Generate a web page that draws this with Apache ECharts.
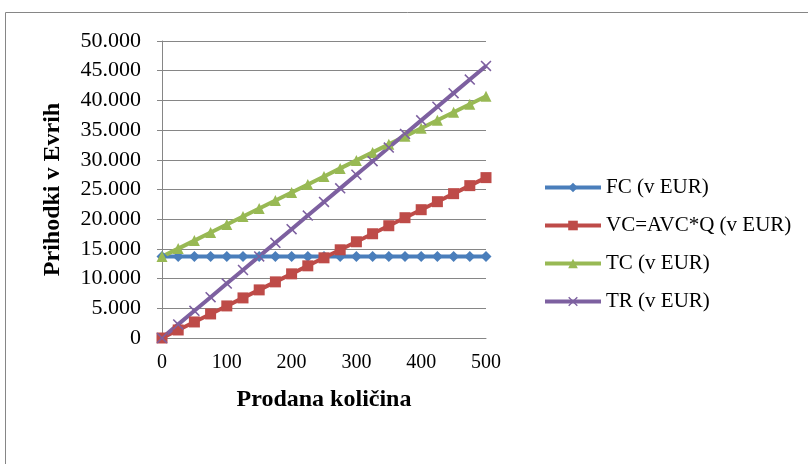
<!DOCTYPE html>
<html>
<head>
<meta charset="utf-8">
<script src="https://cdn.jsdelivr.net/npm/echarts@6/dist/echarts.min.js"></script>
<style>
  html, body { margin: 0; padding: 0; background: #fff; }
  #chart { width: 808px; height: 464px; }
</style>
</head>
<body>
<div id="chart"></div>
<script>
// količina (Q)
var kolicina = [0, 25, 50, 75, 100, 125, 150, 175, 200, 225, 250, 275, 300, 325, 350, 375, 400, 425, 450, 475, 500];
// stroški in prihodki (EUR), odčitano s slike
var fc = [13700, 13700, 13700, 13700, 13700, 13700, 13700, 13700, 13700, 13700, 13700, 13700, 13700, 13700, 13700, 13700, 13700, 13700, 13700, 13700, 13700];
var vc = [0, 1350, 2700, 4050, 5400, 6750, 8100, 9450, 10800, 12150, 13500, 14850, 16200, 17550, 18900, 20250, 21600, 22950, 24300, 25650, 27000];
var tc = [13700, 15050, 16400, 17750, 19100, 20450, 21800, 23150, 24500, 25850, 27200, 28550, 29900, 31250, 32600, 33950, 35300, 36650, 38000, 39350, 40700];
var tr = [0, 2290, 4580, 6870, 9160, 11450, 13740, 16030, 18320, 20610, 22900, 25190, 27480, 29770, 32060, 34350, 36640, 38930, 41220, 43510, 45800];
var imena = ['FC (v EUR)', 'VC=AVC*Q (v EUR)', 'TC (v EUR)', 'TR (v EUR)'];

function pari(ys) {
  return kolicina.map(function (q, i) { return [q, ys[i]]; });
}

var font = '"Liberation Serif", "Times New Roman", serif';
var xSym = 'path://M0,1L1,0L5,4L9,0L10,1L6,5L10,9L9,10L5,6L1,10L0,9L4,5Z';

var myChart = echarts.init(document.getElementById('chart'));
var option = {
  backgroundColor: '#fff',
  animation: false,
  graphic: [{
    type: 'rect',
    shape: { x: 5.5, y: 12.5, width: 900, height: 600 },
    style: { fill: 'none', stroke: '#868686', lineWidth: 1 }
  }],
  grid: { left: 162, right: 322, top: 41, bottom: 126 },
  legend: {
    orient: 'vertical',
    left: 538,
    top: 172,
    itemWidth: 56,
    itemHeight: 12,
    itemGap: 17,
    lineStyle: { width: 4 },
    textStyle: { fontFamily: font, fontSize: 21, color: '#000' },
    data: imena
  },
  xAxis: {
    type: 'value',
    min: 0, max: 500, interval: 100,
    name: 'Prodana količina',
    nameLocation: 'middle',
    nameGap: 50,
    nameTextStyle: { fontFamily: font, fontSize: 24, fontWeight: 'bold', color: '#000' },
    axisLine: { show: true, lineStyle: { color: '#868686' } },
    axisTick: { show: false },
    splitLine: { show: false },
    axisLabel: { fontFamily: font, fontSize: 20, color: '#000', margin: 15 }
  },
  yAxis: {
    type: 'value',
    min: 0, max: 50000, interval: 5000,
    name: 'Prihodki v Evrih',
    nameLocation: 'middle',
    nameGap: 97,
    nameTextStyle: { fontFamily: font, fontSize: 24, fontWeight: 'bold', color: '#000' },
    axisLine: { show: true, lineStyle: { color: '#868686' } },
    axisTick: { show: true, length: 5, lineStyle: { color: '#868686' } },
    splitLine: { lineStyle: { color: '#868686' } },
    axisLabel: {
      fontFamily: font, fontSize: 22, color: '#000', margin: 21,
      formatter: function (v) {
        return v === 0 ? '0' : (v / 1000).toFixed(0) + '.000';
      }
    }
  },
  series: [
    {
      name: imena[0], type: 'line', data: pari(fc),
      symbol: 'diamond', symbolSize: 11,
      lineStyle: { width: 4, color: '#4A7EBB' },
      itemStyle: { color: '#4A7EBB' }
    },
    {
      name: imena[1], type: 'line', data: pari(vc),
      symbol: 'rect', symbolSize: 11,
      lineStyle: { width: 4, color: '#BE4B48' },
      itemStyle: { color: '#BE4B48' }
    },
    {
      name: imena[2], type: 'line', data: pari(tc),
      symbol: 'triangle', symbolSize: 11,
      lineStyle: { width: 4, color: '#98B954' },
      itemStyle: { color: '#98B954' }
    },
    {
      name: imena[3], type: 'line', data: pari(tr),
      symbol: xSym, symbolSize: 11,
      lineStyle: { width: 4, color: '#7D60A0' },
      itemStyle: { color: '#7D60A0' }
    }
  ]
};
myChart.setOption(option);
window.onresize = function () { myChart.resize(); };
</script>
</body>
</html>
